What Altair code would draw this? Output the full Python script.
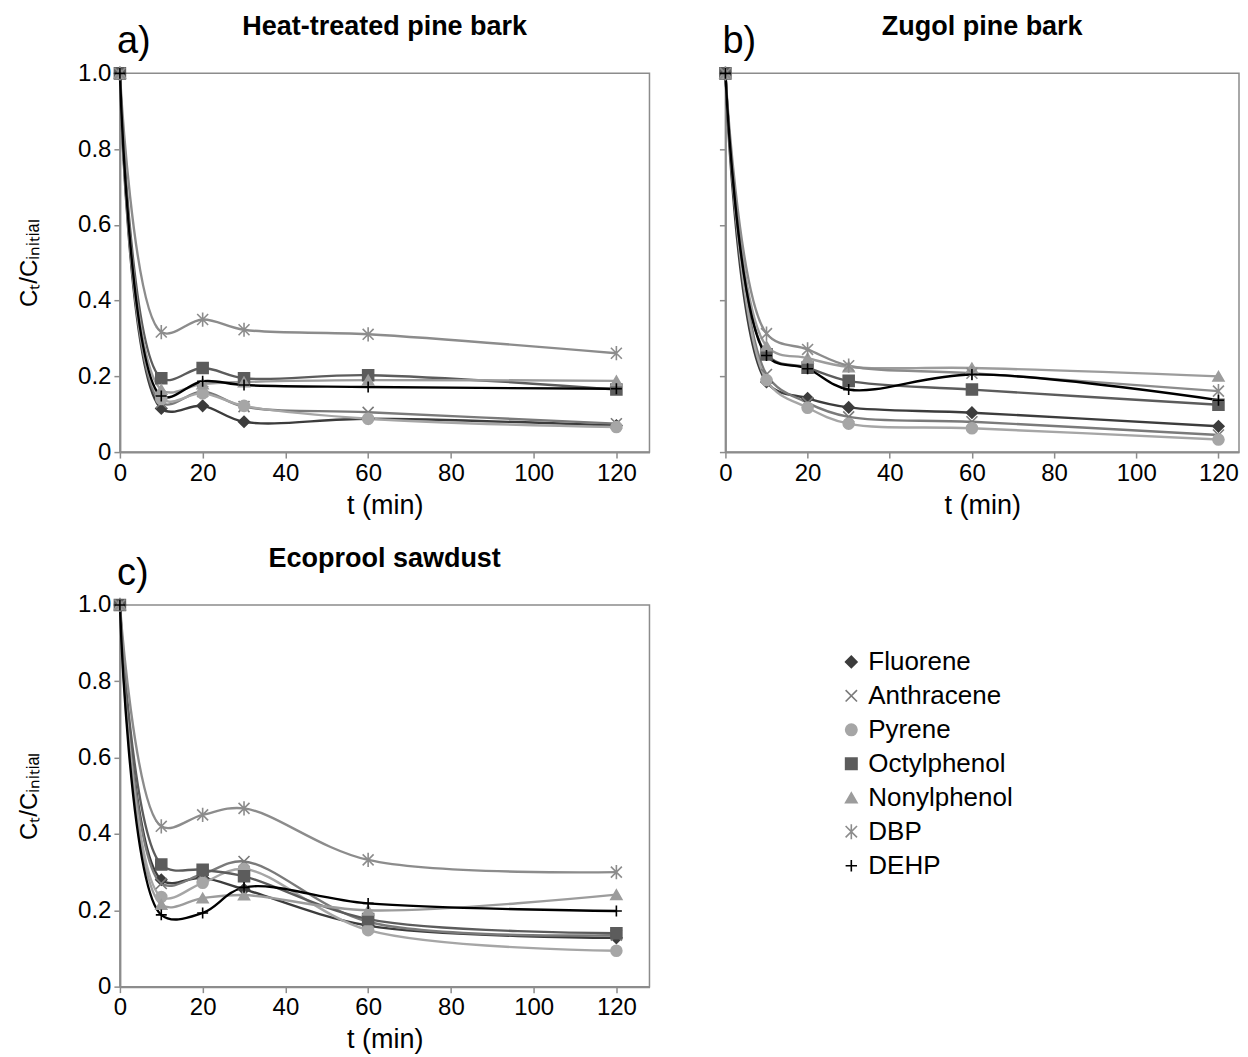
import altair as alt
import pandas as pd

FONT = "Liberation Sans"

t = [0, 10, 20, 30, 60, 120]
series = ["Fluorene", "Anthracene", "Pyrene", "Octylphenol", "Nonylphenol", "DBP", "DEHP"]
colors = ["#3c3c3c", "#7a7a7a", "#a6a6a6", "#5c5c5c", "#9c9c9c", "#8c8c8c", "#000000"]
shapes = ["diamond", "M-1,-1L1,1M-1,1L1,-1", "circle", "square", "triangle-up",
          "M-1,-1L1,1M-1,1L1,-1M0,-1.3L0,1.3", "M-1,0L1,0M0,-1L0,1"]

# panel a) Heat-treated pine bark
a_fluorene = [1.0, 0.115, 0.122, 0.080, 0.088, 0.070]
a_anthracene = [1.0, 0.130, 0.160, 0.120, 0.105, 0.075]
a_pyrene = [1.0, 0.140, 0.155, 0.122, 0.088, 0.066]
a_octylphenol = [1.0, 0.195, 0.222, 0.195, 0.203, 0.165]
a_nonylphenol = [1.0, 0.165, 0.180, 0.185, 0.190, 0.188]
a_dbp = [1.0, 0.317, 0.350, 0.323, 0.311, 0.261]
a_dehp = [1.0, 0.148, 0.187, 0.177, 0.172, 0.167]

# panel b) Zugol pine bark
b_fluorene = [1.0, 0.185, 0.142, 0.118, 0.104, 0.068]
b_anthracene = [1.0, 0.205, 0.130, 0.093, 0.080, 0.045]
b_pyrene = [1.0, 0.190, 0.117, 0.075, 0.063, 0.033]
b_octylphenol = [1.0, 0.258, 0.223, 0.188, 0.165, 0.125]
b_nonylphenol = [1.0, 0.280, 0.248, 0.225, 0.222, 0.200]
b_dbp = [1.0, 0.313, 0.271, 0.228, 0.208, 0.161]
b_dehp = [1.0, 0.255, 0.220, 0.165, 0.205, 0.137]

# panel c) Ecoprool sawdust
c_fluorene = [1.0, 0.280, 0.285, 0.255, 0.160, 0.128]
c_anthracene = [1.0, 0.270, 0.295, 0.328, 0.170, 0.135]
c_pyrene = [1.0, 0.235, 0.272, 0.308, 0.148, 0.094]
c_octylphenol = [1.0, 0.320, 0.306, 0.289, 0.177, 0.140]
c_nonylphenol = [1.0, 0.215, 0.232, 0.240, 0.200, 0.241]
c_dbp = [1.0, 0.420, 0.450, 0.467, 0.332, 0.300]
c_dehp = [1.0, 0.188, 0.193, 0.260, 0.218, 0.198]

x_ticks = [0, 20, 40, 60, 80, 100, 120]
y_ticks = [0, 0.2, 0.4, 0.6, 0.8, 1.0]
Y_TITLE = "C\u209c/C\u1d62\u2099\u1d62\u209c\u1d62\u2090\u2097"

AXIS_GRAY = "#8c8c8c"


def make_df(cols):
    rows = []
    for name, vals in zip(series, cols):
        for tt, v in zip(t, vals):
            rows.append({"series": name, "t": tt, "v": v})
    return pd.DataFrame(rows)


def panel(cols, label, title, show_y, xmax, width, height):
    df = make_df(cols)
    base = alt.Chart(df)
    x = alt.X("t:Q", scale=alt.Scale(domain=[0, xmax], nice=False),
              axis=alt.Axis(values=x_ticks, title="t (min)", format="d", labelFlush=False))
    y = alt.Y("v:Q", scale=alt.Scale(domain=[0, 1], nice=False),
              axis=alt.Axis(values=y_ticks, labels=show_y, labelFlush=False,
                            labelExpr="datum.value == 0 ? '0' : format(datum.value, '.1f')",
                            title=Y_TITLE if show_y else None))
    cscale = alt.Scale(domain=series, range=colors)
    lines = base.mark_line(interpolate="catmull-rom", strokeWidth=2.4).encode(
        x=x, y=y,
        color=alt.Color("series:N", scale=cscale, legend=None),
        order=alt.Order("t:Q"),
    )
    pts = base.mark_point(filled=True, size=120, opacity=1, strokeWidth=1.6).encode(
        x=x, y=y,
        fill=alt.Fill("series:N", scale=cscale, legend=None),
        stroke=alt.Stroke("series:N", scale=cscale, legend=None),
        shape=alt.Shape("series:N", scale=alt.Scale(domain=series, range=shapes), legend=None),
    )
    lab = alt.Chart(pd.DataFrame({"l": [label]})).mark_text(
        fontSize=38, align="left", baseline="alphabetic", font=FONT, color="black"
    ).encode(text="l:N", x=alt.value(-3), y=alt.value(-20))
    return alt.layer(lines, pts, lab).properties(
        width=width, height=height,
        title=alt.TitleParams(title, fontSize=27, fontWeight="bold", font=FONT,
                              anchor="middle", frame="group", offset=-18, color="black"),
    )


pa = panel([a_fluorene, a_anthracene, a_pyrene, a_octylphenol, a_nonylphenol, a_dbp, a_dehp],
           "a)", "Heat-treated pine bark", True, 128, 530, 379)
pb = panel([b_fluorene, b_anthracene, b_pyrene, b_octylphenol, b_nonylphenol, b_dbp, b_dehp],
           "b)", "Zugol pine bark", False, 125, 514, 379)
pc = panel([c_fluorene, c_anthracene, c_pyrene, c_octylphenol, c_nonylphenol, c_dbp, c_dehp],
           "c)", "Ecoprool sawdust", True, 128, 530, 382)

leg_df = pd.DataFrame({"series": series, "idx": list(range(len(series)))})
leg_y = alt.Y("idx:Q", scale=alt.Scale(domain=[-1.676, 8.324], reverse=True), axis=None)
leg_scale = alt.Scale(domain=series, range=colors)
leg_pts = alt.Chart(leg_df).mark_point(filled=True, size=130, opacity=1, strokeWidth=1.6).encode(
    x=alt.value(13), y=leg_y,
    fill=alt.Fill("series:N", scale=leg_scale, legend=None),
    stroke=alt.Stroke("series:N", scale=leg_scale, legend=None),
    shape=alt.Shape("series:N", scale=alt.Scale(domain=series, range=shapes), legend=None),
)
leg_txt = alt.Chart(leg_df).mark_text(fontSize=26, align="left", baseline="middle",
                                      font=FONT, color="black").encode(
    x=alt.value(30), y=leg_y, text="series:N")
legend = alt.layer(leg_pts, leg_txt).properties(
    width=200, height=340, view=alt.ViewBackground(strokeWidth=0, strokeOpacity=0))

chart = alt.vconcat(
    alt.hconcat(pa, pb, spacing=65),
    alt.hconcat(pc, legend, spacing=188),
    spacing=25,
).properties(
    padding={"left": 8, "top": 4, "right": 0, "bottom": 2}
).configure_view(
    stroke=AXIS_GRAY, strokeWidth=1.5
).configure_axis(
    grid=False, domainColor=AXIS_GRAY, domainWidth=2, tickColor=AXIS_GRAY, tickWidth=1.5,
    tickSize=6, labelFont=FONT, labelFontSize=24, labelColor="black", titleFont=FONT,
    titleFontSize=27, titleFontWeight="normal", titleColor="black", labelPadding=3,
).configure_axisY(
    titlePadding=36, titleFontSize=24,
).configure_axisX(
    titlePadding=7,
)

chart.save("out.html", embed_options={"renderer": "svg", "actions": False})
